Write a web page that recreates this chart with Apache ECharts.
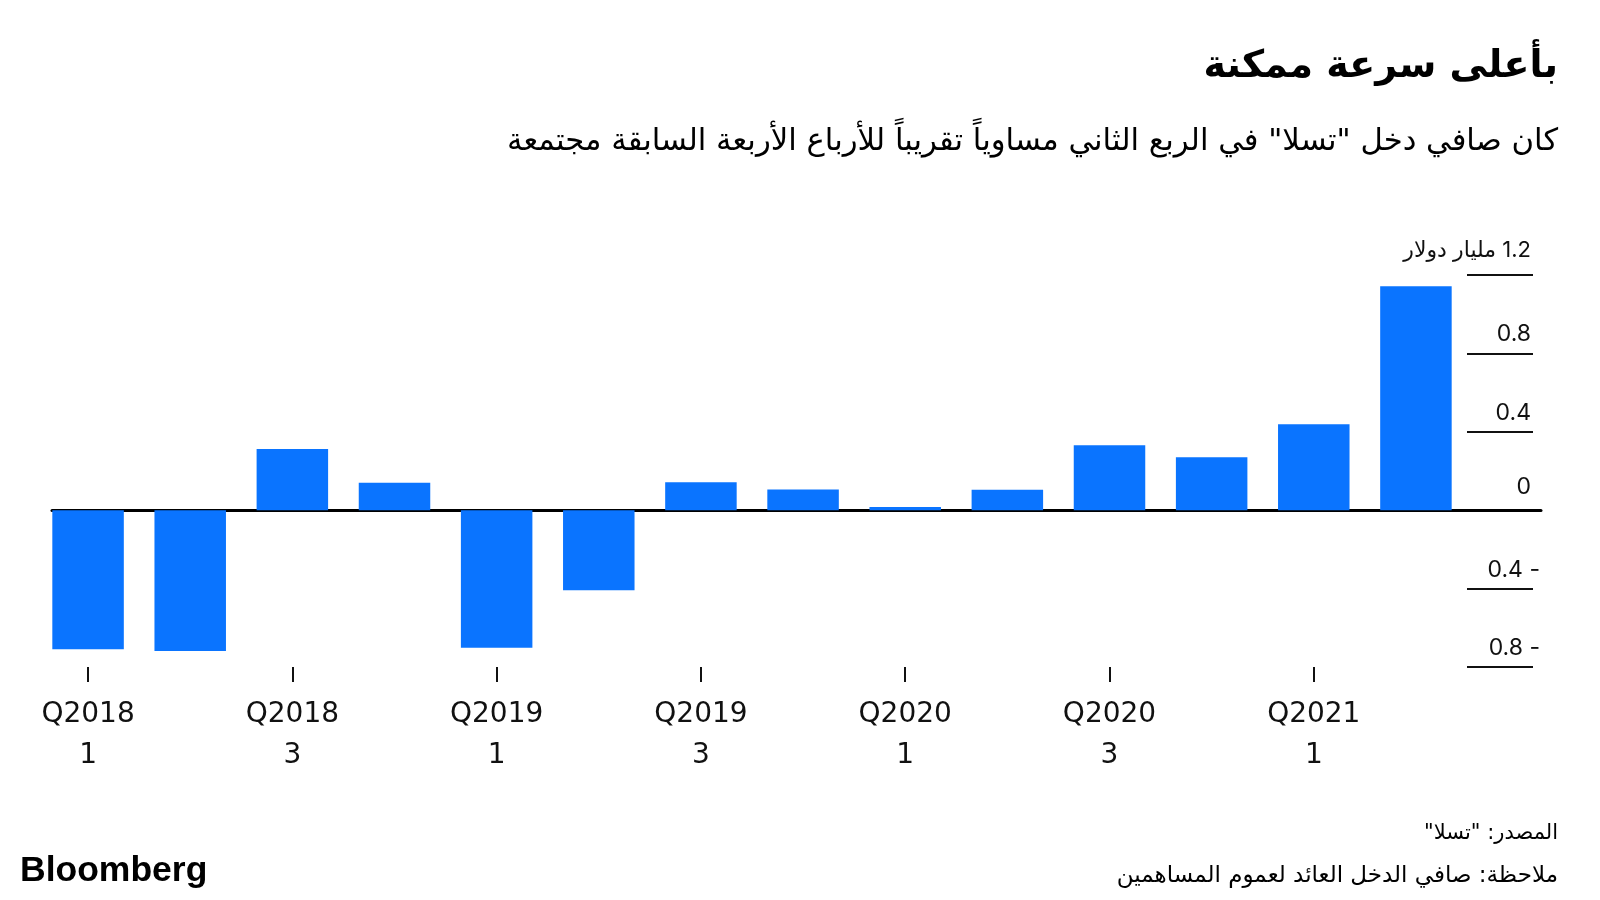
<!DOCTYPE html>
<html><head><meta charset="utf-8">
<script src="https://cdn.jsdelivr.net/npm/echarts@6/dist/echarts.min.js"></script>
<style>html,body{margin:0;padding:0;background:#fff}#c{width:1600px;height:900px}</style>
</head><body><div id="c"></div>
<script>
const categories = ['Q2018\n1','Q2018\n2','Q2018\n3','Q2018\n4','Q2019\n1','Q2019\n2','Q2019\n3','Q2019\n4','Q2020\n1','Q2020\n2','Q2020\n3','Q2020\n4','Q2021\n1','Q2021\n2'];
const netIncome = [-0.710,-0.718,0.312,0.140,-0.702,-0.408,0.143,0.105,0.016,0.104,0.331,0.270,0.438,1.142];
const yMin = -0.8, yMax = 1.2, yStep = 0.4;
const unitLabel = 'مليار دولار';
const titleText = 'بأعلى سرعة ممكنة';
const subtitleText = 'كان صافي دخل "تسلا" في الربع الثاني مساوياً تقريباً للأرباع الأربعة السابقة مجتمعة';
const sourceText = 'المصدر: "تسلا"\u200F';
const noteText = 'ملاحظة: صافي الدخل العائد لعموم المساهمين';
const brandText = 'Bloomberg';

const BLUE = '#0A74FF';
const AR = '"DejaVu Sans", sans-serif';
const NUM = 'Inter, "DejaVu Sans", sans-serif';

const chart = echarts.init(document.getElementById('c'), null, {renderer:'canvas'});
const gTop = 275, gBottom = 233;
chart.setOption({
  animation:false,
  backgroundColor:'#fff',
  grid:[
    {left:37, right:133, top:gTop, bottom:gBottom},
    {left:1467, right:67, top:gTop, bottom:gBottom},
    {left:52, right:59, top:gTop, bottom:gBottom}
  ],
  xAxis:[
    {type:'category', gridIndex:0, data:categories, boundaryGap:true, position:'bottom',
     axisLine:{show:false, onZero:false},
     axisTick:{show:true, interval:1, alignWithLabel:true, length:15, lineStyle:{color:'#111', width:2}},
     axisLabel:{interval:1, margin:27, fontFamily:'"DejaVu Sans", sans-serif', fontSize:28, lineHeight:41, color:'#111'}},
    {type:'value', gridIndex:1, min:0, max:1, show:false},
    {type:'value', gridIndex:2, min:0, max:1, axisLine:{show:true, onZero:true, lineStyle:{color:'#000', width:3}},
     axisTick:{show:false}, axisLabel:{show:false}, splitLine:{show:false}}
  ],
  yAxis:[
    {type:'value', gridIndex:0, min:yMin, max:yMax, interval:yStep, show:false},
    {type:'value', gridIndex:1, min:yMin, max:yMax, interval:yStep, position:'right',
     axisLine:{show:false}, axisTick:{show:false},
     splitLine:{show:true, lineStyle:{color:'#111', width:2}},
     axisLabel:{inside:true, margin:-7, verticalAlign:'bottom', color:'#111', fontFamily:NUM, fontSize:23,
       formatter:function(v){
         const r = Math.round(v*10)/10;
         if (r < 0) return '{n|' + Math.abs(r).toFixed(1) + ' -}';
         if (r === 0) return '{z|0}';
         if (Math.abs(r - yMax) < 1e-9) return '{u|\u200F' + r.toFixed(1) + ' ' + unitLabel + '}';
         return '{p|' + r.toFixed(1) + '}';
       },
       rich:{
         n:{fontFamily:NUM, fontSize:23, color:'#111', lineHeight:38},
         z:{fontFamily:NUM, fontSize:23, color:'#111', lineHeight:46, padding:[0,9,0,0]},
         p:{fontFamily:NUM, fontSize:23, color:'#111', lineHeight:38, padding:[0,9,0,0]},
         u:{fontFamily:NUM, fontSize:22, color:'#111', lineHeight:50, padding:[0,9,0,0]}
       }}},
    {type:'value', gridIndex:2, min:yMin, max:yMax, interval:yStep, show:false}
  ],
  series:[{
    type:'bar', xAxisIndex:0, yAxisIndex:0, data:netIncome, barWidth:'70%',
    itemStyle:{color:BLUE}, z:1
  }],
  graphic:[
    {type:'text', x:1558, y:67, style:{text:titleText, align:'right', verticalAlign:'middle', font:'bold 38px ' + AR, fill:'#000'}},
    {type:'text', x:1558, y:142, style:{text:subtitleText, align:'right', verticalAlign:'middle', font:'30.7px ' + AR, fill:'#000'}},
    {type:'text', x:1558, y:834, style:{text:sourceText, align:'right', verticalAlign:'middle', font:'21px ' + AR, fill:'#000'}},
    {type:'text', x:1558, y:876, style:{text:noteText, align:'right', verticalAlign:'middle', font:'23px ' + AR, fill:'#000'}},
    {type:'text', x:20, y:871, style:{text:brandText, align:'left', verticalAlign:'middle', font:'bold 35.5px "Liberation Sans", Arial, sans-serif', fill:'#000'}}
  ]
});
</script></body></html>
